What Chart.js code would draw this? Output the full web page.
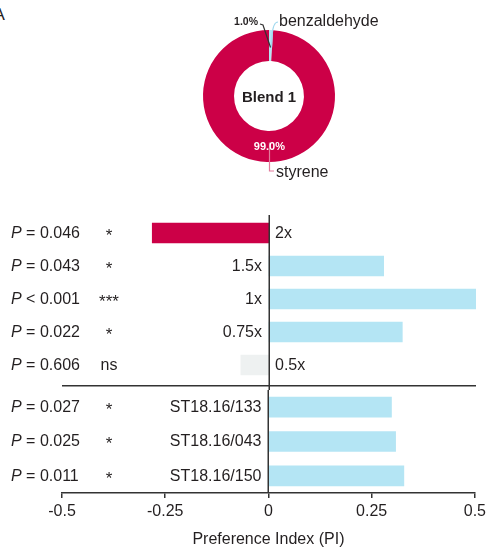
<!DOCTYPE html>
<html><head><meta charset="utf-8">
<script src="https://cdn.jsdelivr.net/npm/chart.js@4/dist/chart.umd.min.js"></script>
<style>
html,body{margin:0;padding:0;background:#fff;overflow:hidden;}
#wrap{position:relative;width:490px;height:549px;overflow:hidden;}
canvas{position:absolute;left:0;}
#panel{position:absolute;left:-6.5px;top:6px;font:17px/17px "Liberation Sans",Arial,sans-serif;color:#222;}
</style></head><body>
<div id="wrap">
<div id="panel">A</div>
<canvas id="pie" width="490" height="195" style="top:0"></canvas>
<canvas id="top" width="490" height="190" style="top:200px"></canvas>
<canvas id="bot" width="490" height="159" style="top:390px"></canvas>
</div>
<script>
// ---- data ----
const blendTitle = 'Blend 1';
const blendLabels = ['benzaldehyde', 'styrene'];
const blendShares = [1.0, 99.0];

const doseLabels = ['2x', '1.5x', '1x', '0.75x', '0.5x'];
const dosePI = [-0.282, 0.277, 0.5, 0.322, -0.068];
const doseP = ['= 0.046', '= 0.043', '< 0.001', '= 0.022', '= 0.606'];
const doseSig = ['*', '*', '***', '*', 'ns'];

const strainLabels = ['ST18.16/133', 'ST18.16/043', 'ST18.16/150'];
const strainPI = [0.298, 0.308, 0.328];
const strainP = ['= 0.027', '= 0.025', '= 0.011'];
const strainSig = ['*', '*', '*'];

const xTicks = [-0.5, -0.25, 0, 0.25, 0.5];
const xTitle = 'Preference Index (PI)';

// ---- style ----
const FONT = '"Liberation Sans", Arial, Helvetica, sans-serif';
const INK = '#231f20';
const RED = '#cc0047';
const BLUE = '#b4e5f4';
const GREY = '#eef1f1';
const AXIS = '#333333';

function barColors(vals, sigs) {
  return vals.map((v, i) => sigs[i] === 'ns' ? GREY : (v < 0 ? RED : BLUE));
}

function rowLabels(pValues, sigs) {
  return {
    id: 'rowLabels',
    afterDatasetsDraw(chart) {
      const ctx = chart.ctx, xs = chart.scales.x, ys = chart.scales.y;
      const x0 = xs.getPixelForValue(0);
      const labels = chart.data.labels;
      const vals = chart.data.datasets[0].data;
      ctx.save();
      ctx.fillStyle = INK;
      ctx.textBaseline = 'middle';
      labels.forEach((lab, i) => {
        const y = ys.getPixelForValue(i) + 0.5;
        ctx.textAlign = 'left';
        ctx.font = 'italic 16px ' + FONT;
        ctx.fillText('P', 11, y);
        const w = ctx.measureText('P').width;
        ctx.font = '16px ' + FONT;
        ctx.fillText(' ' + pValues[i], 11 + w, y);
        ctx.textAlign = 'center';
        const isStar = sigs[i].indexOf('*') >= 0;
        ctx.font = (isStar ? '17px ' : '16px ') + FONT;
        ctx.fillText(sigs[i], 109, y + (isStar ? 2.5 : 0));
        ctx.font = '16px ' + FONT;
        if (vals[i] < 0) { ctx.textAlign = 'left'; ctx.fillText(lab, x0 + 6, y); }
        else { ctx.textAlign = 'right'; ctx.fillText(lab, x0 - 7, y); }
      });
      ctx.restore();
    }
  };
}

function zeroLine(isTop) {
  return {
    id: 'zeroLine',
    afterDatasetsDraw(chart) {
      const ctx = chart.ctx, a = chart.chartArea, xs = chart.scales.x;
      const x0 = Math.round(xs.getPixelForValue(0)) + 0.25;
      ctx.save();
      ctx.strokeStyle = AXIS;
      ctx.lineWidth = 1.5;
      ctx.beginPath();
      if (isTop) {
        ctx.moveTo(x0, a.top - 1.5);
        ctx.lineTo(x0, chart.height);
        const ys = (a.bottom + chart.height) / 2;
        ctx.moveTo(a.left, ys);
        ctx.lineTo(a.right, ys);
      } else {
        ctx.moveTo(x0, 0);
        ctx.lineTo(x0, a.bottom);
      }
      ctx.stroke();
      ctx.restore();
    }
  };
}

const pieLabels = {
  id: 'pieLabels',
  afterDatasetsDraw(chart) {
    const ctx = chart.ctx;
    const arcs = chart.getDatasetMeta(0).data;
    const a0 = arcs[0], a1 = arcs[1];
    const cx = a0.x, cy = a0.y, R = a0.outerRadius, r = a0.innerRadius;
    const ring = (R + r) / 2;
    const m0 = (a0.startAngle + a0.endAngle) / 2;
    const m1 = (a1.startAngle + a1.endAngle) / 2;
    ctx.save();
    // center title
    ctx.fillStyle = INK;
    ctx.font = 'bold 15px ' + FONT;
    ctx.textAlign = 'center';
    ctx.textBaseline = 'middle';
    ctx.fillText(blendTitle, cx, cy + 1.5);

    // small slice (benzaldehyde)
    const p0x = cx + Math.cos(m0) * (ring - 2), p0y = cy + Math.sin(m0) * (ring - 2);
    ctx.lineWidth = 1.2;
    ctx.strokeStyle = '#9fd8ee';
    ctx.beginPath();
    ctx.moveTo(p0x + 1, p0y);
    ctx.lineTo(cx + 3, cy - R + 6);
    ctx.quadraticCurveTo(cx + 4, cy - R - 8, cx + 9, cy - R - 8);
    ctx.stroke();
    ctx.strokeStyle = '#333';
    ctx.beginPath();
    ctx.moveTo(p0x, p0y);
    ctx.lineTo(cx - 6, cy - R - 5);
    ctx.lineTo(cx - 9, cy - R - 6);
    ctx.stroke();
    ctx.fillStyle = INK;
    ctx.font = 'bold 10.5px ' + FONT;
    ctx.textAlign = 'right';
    ctx.fillText(blendShares[0].toFixed(1) + '%', cx - 11, cy - R - 8);
    ctx.font = '16px ' + FONT;
    ctx.textAlign = 'left';
    ctx.fillText(blendLabels[0], cx + 10, cy - R - 8.5);

    // large slice (styrene)
    const p1x = cx + Math.cos(m1) * ring + 2, p1y = cy + Math.sin(m1) * ring + 1;
    ctx.strokeStyle = '#e27b9b';
    ctx.beginPath();
    ctx.moveTo(cx + 0.5, p1y - 5);
    ctx.lineTo(cx + 0.5, cy + R + 9);
    ctx.lineTo(cx + 5, cy + R + 9);
    ctx.stroke();
    ctx.fillStyle = '#ffffff';
    ctx.font = 'bold 11px ' + FONT;
    ctx.textAlign = 'center';
    ctx.fillText(blendShares[1].toFixed(1) + '%', p1x, p1y);
    ctx.fillStyle = INK;
    ctx.font = '16px ' + FONT;
    ctx.textAlign = 'left';
    ctx.fillText(blendLabels[1], cx + 7, cy + R + 11);
    ctx.restore();
  }
};

new Chart(document.getElementById('pie'), {
  type: 'doughnut',
  data: {
    labels: blendLabels,
    datasets: [{ data: blendShares, backgroundColor: [BLUE, RED], borderWidth: 0, hoverOffset: 0, offset: 0 }]
  },
  options: {
    responsive: false, animation: false, events: [],
    cutout: '53%',
    layout: { padding: { left: 203, right: 155, top: 30, bottom: 33 } },
    plugins: { legend: { display: false }, tooltip: { enabled: false } }
  },
  plugins: [pieLabels]
});

new Chart(document.getElementById('top'), {
  type: 'bar',
  data: {
    labels: doseLabels,
    datasets: [{ data: dosePI, backgroundColor: barColors(dosePI, doseSig), borderWidth: 0, barThickness: 20 }]
  },
  options: {
    indexAxis: 'y', responsive: false, animation: false, events: [],
    layout: { padding: { left: 62, right: 14, top: 16.5, bottom: 8.5 } },
    plugins: { legend: { display: false }, tooltip: { enabled: false } },
    scales: {
      x: { type: 'linear', min: -0.5, max: 0.5, display: false },
      y: { type: 'category', display: false }
    }
  },
  plugins: [zeroLine(true), rowLabels(doseP, doseSig)]
});

new Chart(document.getElementById('bot'), {
  type: 'bar',
  data: {
    labels: strainLabels,
    datasets: [{ data: strainPI, backgroundColor: barColors(strainPI, strainSig), borderWidth: 0, barThickness: 20 }]
  },
  options: {
    indexAxis: 'y', responsive: false, animation: false, events: [],
    layout: { padding: { left: 62, right: 14, top: 0, bottom: 0 } },
    plugins: { legend: { display: false }, tooltip: { enabled: false } },
    scales: {
      x: {
        type: 'linear', min: -0.5, max: 0.5, position: 'bottom',
        afterBuildTicks: s => { s.ticks = xTicks.map(v => ({ value: v })); },
        afterFit: s => { s.height = 56; },
        ticks: { color: INK, font: { family: FONT, size: 16 }, padding: 4, maxRotation: 0, autoSkip: false,
                 callback: v => String(v) },
        grid: { display: true, drawOnChartArea: false, drawTicks: true, tickLength: 5, color: AXIS, lineWidth: 1.5 },
        border: { display: true, color: AXIS, width: 1.5 },
        title: { display: true, text: xTitle, color: INK, font: { family: FONT, size: 16 }, padding: { top: 0, bottom: 0 } }
      },
      y: { type: 'category', display: false }
    }
  },
  plugins: [zeroLine(false), rowLabels(strainP, strainSig)]
});
</script>
</body></html>
